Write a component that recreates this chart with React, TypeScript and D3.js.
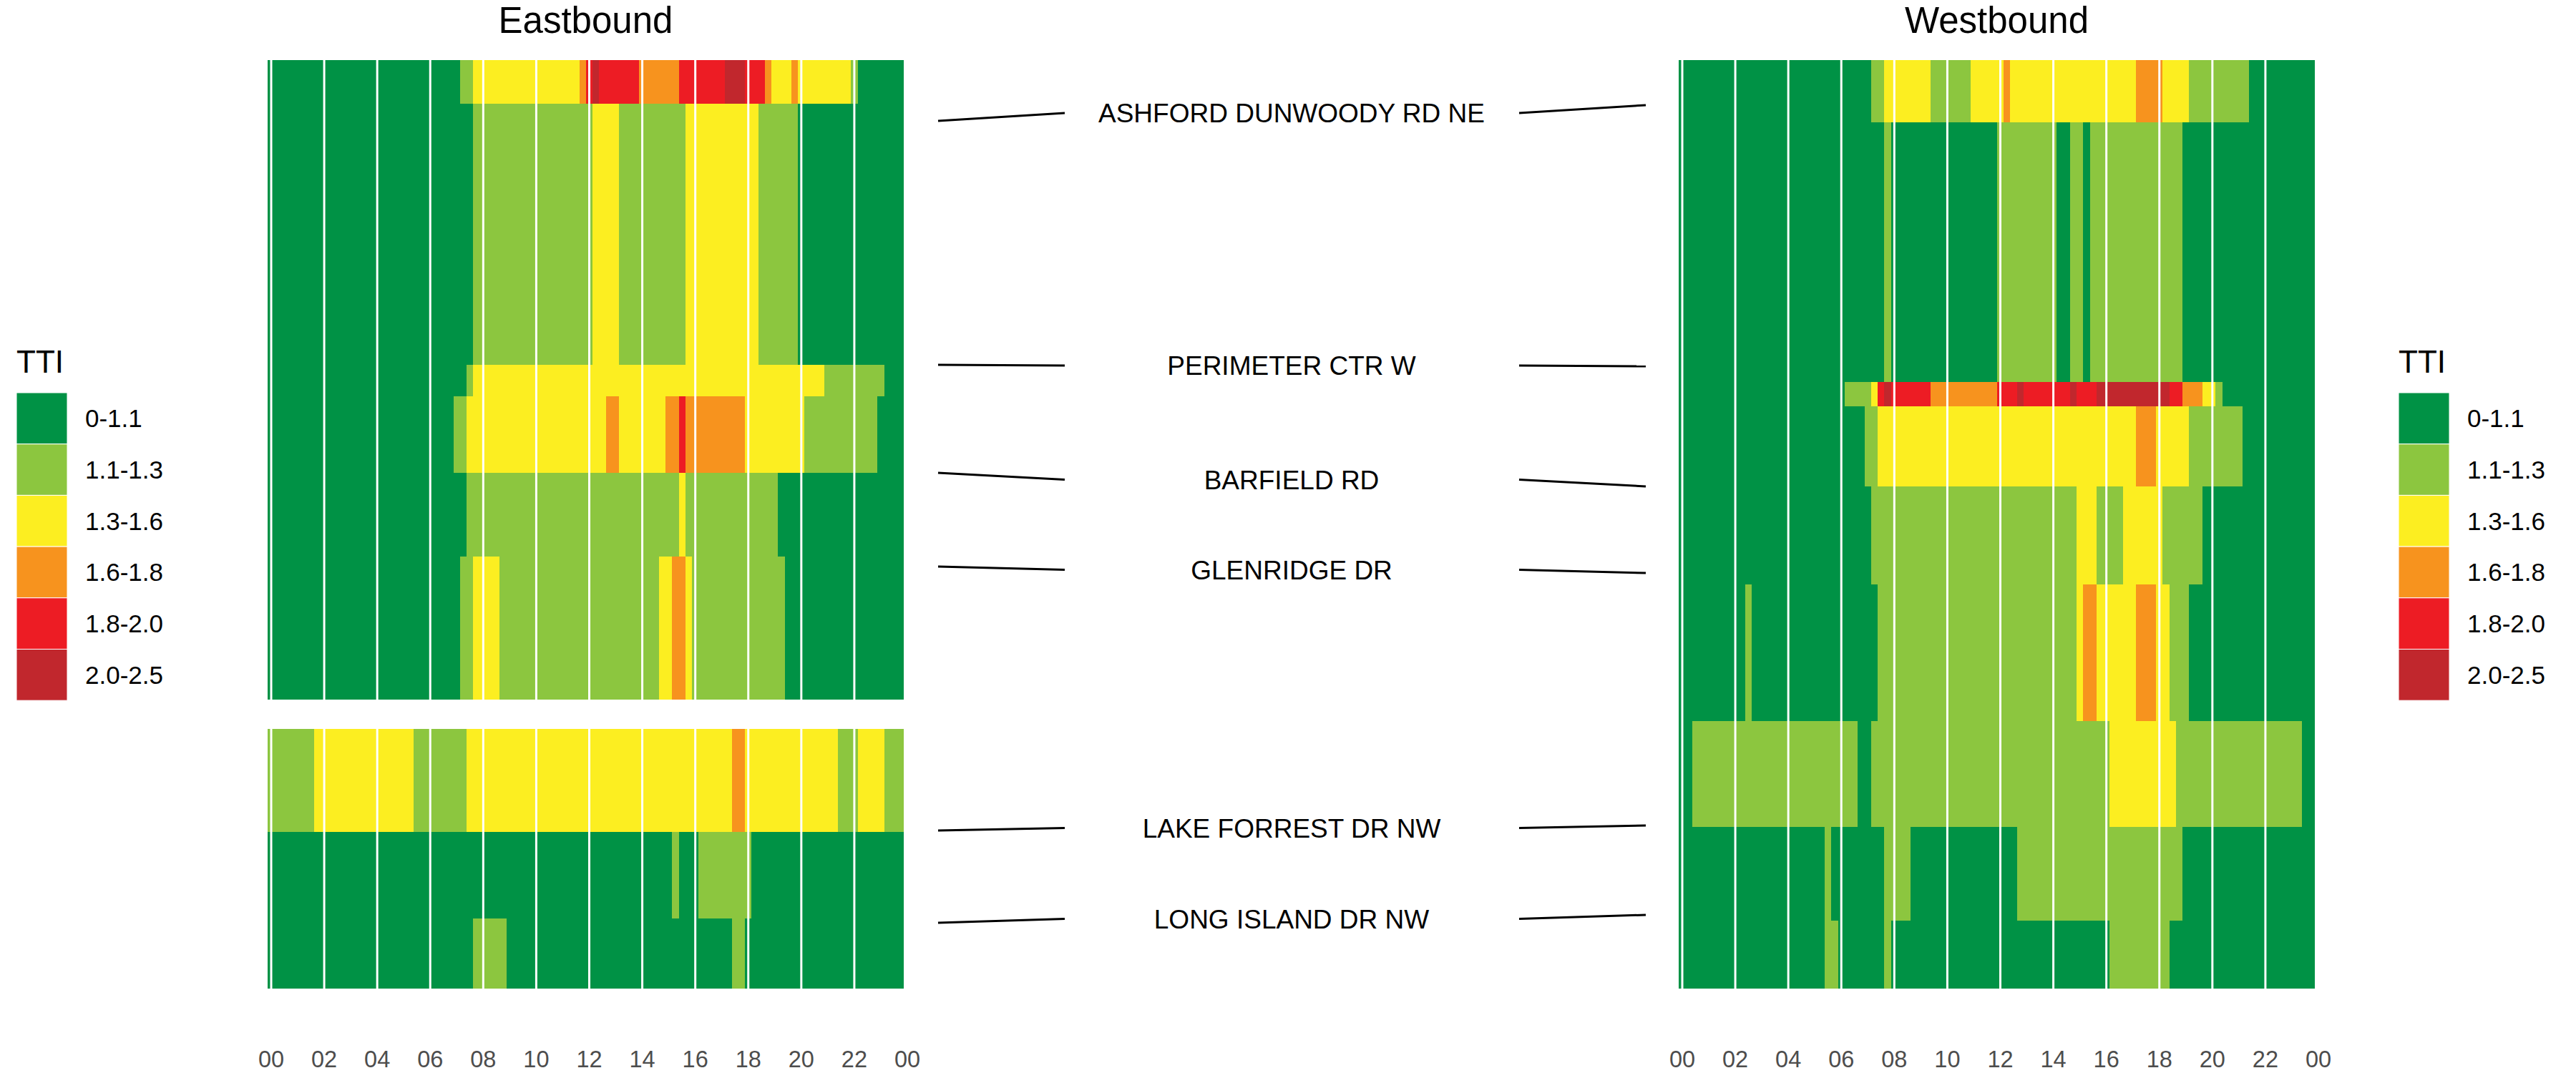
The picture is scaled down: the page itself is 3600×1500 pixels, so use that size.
import { useMemo } from "react";
import * as d3 from "d3";

/* ------------------------------------------------------------------ */
/*  Data                                                              */
/* ------------------------------------------------------------------ */

const TTI_CLASSES = ["0-1.1", "1.1-1.3", "1.3-1.6", "1.6-1.8", "1.8-2.0", "2.0-2.5"];
const TTI_COLORS = ["#009245", "#8CC63F", "#FCEE21", "#F7931E", "#ED1C24", "#C1272D"];

const TICK_HOURS = [0, 2, 4, 6, 8, 10, 12, 14, 16, 18, 20, 22, 24];
const TICK_LABELS = ["00", "02", "04", "06", "08", "10", "12", "14", "16", "18", "20", "22", "00"];

/** Segment extents along the corridor (miles from the north end). */
const EB_START = [0, 0.305, 2.13, 2.35, 2.885, 3.47, 4.675, 5.395, 6.0];
const EB_END = [0.305, 2.13, 2.35, 2.885, 3.47, 4.47, 5.395, 6.0, 6.49];
const WB_START = [0, 0.435, 2.25, 2.42, 2.98, 3.665, 4.62, 5.36, 6.015];
const WB_END = [0.435, 2.25, 2.42, 2.98, 3.665, 4.62, 5.36, 6.015, 6.49];

/** TTI class per 15-min bin (index into TTI_CLASSES), one group of 4 per hour. */
const EB_TTI = [
  "0000 0000 0000 0000 0000 0000 0000 0112 2222 2222 2222 2223 4544 4444 3333 3344 4444 4555 4443 2223 2222 2222 1000 0000",
  "0000 0000 0000 0000 0000 0000 0000 0001 1111 1111 1111 1111 1222 2111 1111 1112 2222 2222 2211 1111 0000 0000 0000 0000",
  "0000 0000 0000 0000 0000 0000 0000 0012 2222 2222 2222 2222 2222 2222 2222 2222 2222 2222 2222 2222 2222 1111 1111 1000",
  "0000 0000 0000 0000 0000 0000 0000 1122 2222 2222 2222 2222 2223 3222 2222 3343 3333 3333 2222 2222 2111 1111 1111 0000",
  "0000 0000 0000 0000 0000 0000 0000 0011 1111 1111 1111 1111 1111 1111 1111 1121 1111 1111 1111 1000 0000 0000 0000 0000",
  "0000 0000 0000 0000 0000 0000 0000 0112 2221 1111 1111 1111 1111 1111 1112 2332 1111 1111 1111 1100 0000 0000 0000 0000",
  "1111 1112 2222 2222 2222 2211 1111 1122 2222 2222 2222 2222 2222 2222 2222 2222 2222 2233 2222 2222 2222 2211 1222 2111",
  "0000 0000 0000 0000 0000 0000 0000 0000 0000 0000 0000 0000 0000 0000 0000 0100 0111 1111 1000 0000 0000 0000 0000 0000",
  "0000 0000 0000 0000 0000 0000 0000 0001 1111 0000 0000 0000 0000 0000 0000 0000 0000 0011 0000 0000 0000 0000 0000 0000",
];

const WB_TTI = [
  "0000 0000 0000 0000 0000 0000 0000 0112 2222 2211 1111 2222 2322 2222 2222 2222 2222 2333 3222 2111 1111 1100 0000 0000",
  "0000 0000 0000 0000 0000 0000 0000 0001 0000 0000 0000 0000 1111 1111 1001 1011 1111 1111 1111 0000 0000 0000 0000 0000",
  "0000 0000 0000 0000 0000 0000 0111 1245 4444 4433 3333 3333 4445 4444 4445 4445 5555 5555 5544 3332 2100 0000 0000 0000",
  "0000 0000 0000 0000 0000 0000 0000 1122 2222 2222 2222 2222 2222 2222 2222 2222 2222 2333 2222 2111 1111 1000 0000 0000",
  "0000 0000 0000 0000 0000 0000 0000 0111 1111 1111 1111 1111 1111 1111 1111 2221 1112 2222 2111 1110 0000 0000 0000 0000",
  "0000 0000 0010 0000 0000 0000 0000 0011 1111 1111 1111 1111 1111 1111 1111 2332 2222 2333 2211 1000 0000 0000 0000 0000",
  "0011 1111 1111 1111 1111 1111 1110 0111 1111 1111 1111 1111 1111 1111 1111 1111 1222 2222 2221 1111 1111 1111 1111 1100",
  "0000 0000 0000 0000 0000 0010 0000 0001 1110 0000 0000 0000 0001 1111 1111 1111 1111 1111 1111 0000 0000 0000 0000 0000",
  "0000 0000 0000 0000 0000 0011 0000 0001 0000 0000 0000 0000 0000 0000 0000 0000 0111 1111 1100 0000 0000 0000 0000 0000",
];

const CROSS_STREETS = [
  "ASHFORD DUNWOODY RD NE",
  "PERIMETER CTR W",
  "BARFIELD RD",
  "GLENRIDGE DR",
  "LAKE FORREST DR NW",
  "LONG ISLAND DR NW",
];
const EB_STREET_MI = [0.425, 2.13, 2.885, 3.54, 5.385, 6.03];
const WB_STREET_MI = [0.315, 2.14, 2.98, 3.585, 5.35, 5.975];

/* ------------------------------------------------------------------ */
/*  Layout                                                            */
/* ------------------------------------------------------------------ */

const WIDTH = 3600;
const HEIGHT = 1500;
const FONT = "'Liberation Sans', Arial, Helvetica, sans-serif";
const CORRIDOR_MI = 6.49;
const BIN_H = 0.25;

const yScale = d3.scaleLinear().domain([0, CORRIDOR_MI]).range([84, 1382]);
const colorScale = d3.scaleOrdinal<number, string>().domain(d3.range(TTI_CLASSES.length)).range(TTI_COLORS);

/** Collapse a row of bins into runs of equal class. */
function toRuns(row: string) {
  const cells = row.replace(/\s/g, "").split("").map(Number);
  const runs: { from: number; to: number; cls: number }[] = [];
  let s = 0;
  for (let k = 1; k <= cells.length; k++) {
    if (k === cells.length || cells[k] !== cells[s]) {
      runs.push({ from: s, to: k, cls: cells[s] });
      s = k;
    }
  }
  return runs;
}

/* ------------------------------------------------------------------ */
/*  Pieces                                                            */
/* ------------------------------------------------------------------ */

function Heatmap({
  title,
  xRange,
  starts,
  ends,
  rows,
}: {
  title: string;
  xRange: [number, number];
  starts: number[];
  ends: number[];
  rows: string[];
}) {
  const x = useMemo(() => d3.scaleLinear().domain([0, 24]).range(xRange), [xRange]);

  const tiles = useMemo(
    () =>
      rows.flatMap((row, i) =>
        toRuns(row).map((r) => ({
          key: `${i}-${r.from}`,
          x0: x(r.from * BIN_H - BIN_H / 2),
          x1: x(r.to * BIN_H - BIN_H / 2),
          y0: yScale(starts[i]),
          y1: yScale(ends[i]),
          fill: colorScale(r.cls),
        })),
      ),
    [rows, starts, ends, x],
  );

  return (
    <g>
      <text
        x={(x(0) + x(24)) / 2 - 5}
        y={46}
        textAnchor="middle"
        fontSize={51}
        fontFamily={FONT}
        fill="#000"
      >
        {title}
      </text>

      {tiles.map((t) => (
        <rect
          key={t.key}
          x={t.x0}
          y={t.y0}
          width={t.x1 - t.x0}
          height={t.y1 - t.y0}
          fill={t.fill}
          shapeRendering="crispEdges"
        />
      ))}

      {/* white hour guides, drawn over the tiles */}
      {TICK_HOURS.slice(0, -1).map((h) => (
        <line
          key={h}
          x1={x(h)}
          x2={x(h)}
          y1={yScale(0)}
          y2={yScale(CORRIDOR_MI)}
          stroke="#fff"
          strokeWidth={3}
        />
      ))}

      {TICK_HOURS.map((h, i) => (
        <text
          key={`t${i}`}
          x={x(h)}
          y={1492}
          textAnchor="middle"
          fontSize={32.5}
          fontFamily={FONT}
          fill="#4D4D4D"
        >
          {TICK_LABELS[i]}
        </text>
      ))}
    </g>
  );
}

function Legend({ x0 }: { x0: number }) {
  const keyW = 71;
  const keyH = 71.7;
  const top = 549;
  return (
    <g fontFamily={FONT}>
      <text x={x0} y={521} fontSize={44} fill="#000">
        TTI
      </text>
      {TTI_CLASSES.map((c, i) => (
        <g key={c}>
          <rect
            x={x0}
            y={top + i * keyH}
            width={keyW}
            height={keyH}
            fill={colorScale(i)}
            stroke="#fff"
            strokeWidth={1}
          />
          <text x={x0 + 96} y={top + i * keyH + keyH / 2 + 12.5} fontSize={35} fill="#000">
            {c}
          </text>
        </g>
      ))}
    </g>
  );
}

function StreetLabels() {
  return (
    <g fontFamily={FONT}>
      {CROSS_STREETS.map((name, i) => {
        const yE = yScale(EB_STREET_MI[i]);
        const yW = yScale(WB_STREET_MI[i]);
        const yM = (yE + yW) / 2;
        return (
          <g key={name}>
            <line x1={1311} y1={yE} x2={1488} y2={yM} stroke="#000" strokeWidth={3} />
            <line x1={2123} y1={yM} x2={2300} y2={yW} stroke="#000" strokeWidth={3} />
            <text x={1805} y={yM + 13} textAnchor="middle" fontSize={37} fill="#000">
              {name}
            </text>
          </g>
        );
      })}
    </g>
  );
}

/* ------------------------------------------------------------------ */
/*  App                                                               */
/* ------------------------------------------------------------------ */

export default function App() {
  return (
    <svg
      width={WIDTH}
      height={HEIGHT}
      viewBox={`0 0 ${WIDTH} ${HEIGHT}`}
      style={{ position: "absolute", left: 0, top: 0, background: "#fff" }}
    >
      <rect width={WIDTH} height={HEIGHT} fill="#fff" />
      <Heatmap title="Eastbound" xRange={[379, 1268]} starts={EB_START} ends={EB_END} rows={EB_TTI} />
      <Heatmap title="Westbound" xRange={[2351, 3240]} starts={WB_START} ends={WB_END} rows={WB_TTI} />
      <StreetLabels />
      <Legend x0={23} />
      <Legend x0={3352} />
    </svg>
  );
}
